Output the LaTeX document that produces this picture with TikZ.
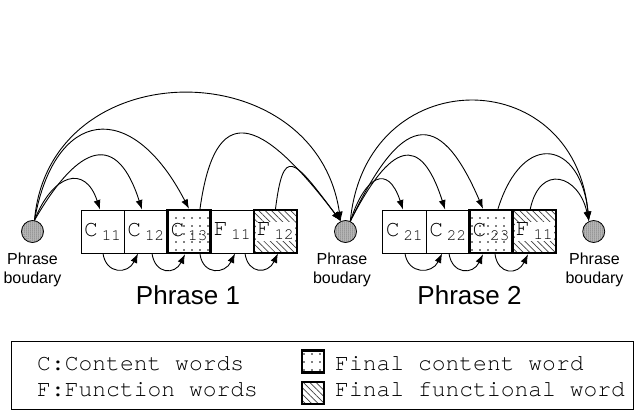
\documentclass[tikz,border=0pt]{standalone}
\usepackage{fontspec}
\setmainfont{Liberation Sans}
\setmonofont{TeX Gyre Cursor}
\usetikzlibrary{arrows.meta, patterns.meta}
\newcommand{\wlab}[2]{{\fontsize{23}{23}\selectfont\ttfamily #1\,\raisebox{-4pt}{\fontsize{16}{16}\selectfont #2}}}
\newcommand{\wlabw}[2]{{\setlength{\fboxsep}{1pt}\colorbox{white}{\wlab{#1}{#2}}}}

\begin{document}
\begin{tikzpicture}[x=1pt, y=1pt,
  wbox/.style={draw, line width=0.9pt, minimum width=43.3pt, minimum height=43pt, inner sep=0pt},
  lastc/.style={line width=2.4pt, pattern={Dots[distance=8pt, radius=0.8pt]}},
  lastf/.style={line width=2.4pt, pattern={Lines[angle=-45, distance=4.5pt, line width=0.7pt]}, pattern color=black!75},
  pb/.style={circle, draw, line width=0.8pt, minimum size=22pt, inner sep=0pt, fill=gray!45, postaction={pattern={Dots[distance=2pt, radius=0.5pt]}}},
  pblab/.style={align=center, font=\fontsize{16}{19}\selectfont},
  phr/.style={font=\fontsize{26}{26}\selectfont},
  legtxt/.style={anchor=base west, inner sep=0pt, font=\fontsize{23}{23}\selectfont\ttfamily},
  legsq/.style={draw, minimum size=22pt, inner sep=0pt},
  arr/.style={-{Latex[length=9.5pt, width=7pt]}, line width=0.9pt}]
  \useasboundingbox (0, 0) rectangle (634, 410);

  % phrase boundaries
  \node[pb] (pb1) at (32.5, 178.5) {};
  \node[pb] (pb2) at (345.5, 178.5) {};
  \node[pb] (pb3) at (593.7, 178.5) {};
  \node[pblab] (lab1) at (32.5, 140.5) {Phrase\\boudary};
  \node[pblab] (lab2) at (342, 140.5) {Phrase\\boudary};
  \node[pblab] (lab3) at (594.5, 140.5) {Phrase\\boudary};

  % words
  \node[wbox] (c11) at (102.6, 178.5) {\wlab{C}{11}};
  \node[wbox] (c12) at (145.8, 178.5) {\wlab{C}{12}};
  \node[wbox, lastc] (c13) at (189.0, 178.5) {\wlab{C}{13}};
  \node[wbox] (f11) at (232.2, 178.5) {\wlab{F}{11}};
  \node[wbox, lastf] (f12) at (275.4, 178.5) {\wlabw{F}{12}};
  \node[wbox] (c21) at (404.4, 178.5) {\wlab{C}{21}};
  \node[wbox] (c22) at (447.7, 178.5) {\wlab{C}{22}};
  \node[wbox, lastc] (c23) at (491.0, 178.5) {\wlab{C}{23}};
  \node[wbox, lastf] (f21) at (534.3, 178.5) {\wlabw{F}{11}};

  \node[phr] (ph1) at (188, 115) {Phrase 1};
  \node[phr] (ph2) at (469.5, 115) {Phrase 2};

  % arcs, phrase 1
  \draw[arr] (pb1.80) .. controls +(18, 46) and +(-15, 46) .. ([xshift=-2.6pt]c11.north);
  \draw[arr] (pb1.80) .. controls +(45, 78) and +(-25, 78) .. ([xshift=-3.8pt]c12.north);
  \draw[arr] (pb1.80) .. controls +(20, 112) and +(-58, 112) .. (c13.north);
  \draw[arr] (pb1.80) .. controls +(15, 170) and +(-25, 170) .. (pb2.115);
  \draw[arr] ([xshift=11pt]c13.north) .. controls +(15, 108) and +(-82, 108) .. (pb2.115);
  \draw[arr] (f12.north) .. controls +(8, 64) and +(-48, 64) .. (pb2.115);

  % arcs, phrase 2
  \draw[arr] (pb2.65) .. controls +(15, 46) and +(-15, 46) .. ([xshift=-1.4pt]c21.north);
  \draw[arr] (pb2.65) .. controls +(40, 78) and +(-25, 78) .. ([xshift=-2.6pt]c22.north);
  \draw[arr] (pb2.65) .. controls +(50, 105) and +(-45, 105) .. ([xshift=-8pt]c23.north);
  \draw[arr] (pb2.65) .. controls +(15, 160) and +(-15, 160) .. (pb3.115);
  \draw[arr] ([xshift=7pt]c23.north) .. controls +(25, 80) and +(-8, 80) .. (pb3.115);
  \draw[arr] ([xshift=-4pt]f21.north) .. controls +(10, 46) and +(-10, 46) .. (pb3.115);

  % word to word
  \draw[arr] ([xshift=0.4pt]c11.south) .. controls +(3, -21) and +(-10, -21) .. ([xshift=-7.8pt]c12.south);
  \draw[arr] ([xshift=6.2pt]c12.south) .. controls +(3, -21) and +(-10, -21) .. ([xshift=-4pt]c13.south);
  \draw[arr] ([xshift=11pt]c13.south) .. controls +(3, -21) and +(-10, -21) .. ([xshift=2.8pt]f11.south);
  \draw[arr] ([xshift=12.8pt]f11.south) .. controls +(3, -21) and +(-10, -21) .. ([xshift=2.6pt]f12.south);
  \draw[arr] ([xshift=0.6pt]c21.south) .. controls +(3, -21) and +(-10, -21) .. ([xshift=-5.6pt]c22.south);
  \draw[arr] ([xshift=1.3pt]c22.south) .. controls +(3, -21) and +(-10, -21) .. ([xshift=-8pt]c23.south);
  \draw[arr] ([xshift=4pt]c23.south) .. controls +(3, -21) and +(-10, -21) .. ([xshift=-6.3pt]f21.south);

  % legend
  \draw[line width=1pt] (11, 1) rectangle (633, 69);
  \node[legtxt] (cw) at (37, 40) {C:Content words};
  \node[legtxt] (fw) at (37, 14) {F:Function words};
  \node[legsq, lastc] (sqc) at (313, 48.5) {};
  \node[legsq, lastf] (sqf) at (313, 17) {};
  \node[legtxt] (fcw) at (335, 40) {Final content word};
  \node[legtxt] (ffw) at (335, 14) {Final functional word};
\end{tikzpicture}
\end{document}
